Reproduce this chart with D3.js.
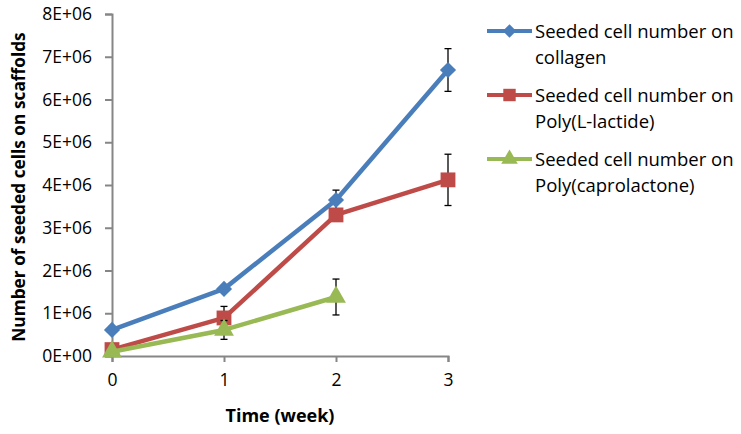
<!DOCTYPE html>
<html>
<head>
<meta charset="utf-8">
<script src="https://cdn.jsdelivr.net/npm/d3@7"></script>
<style>
  body { margin: 0; background: #fff; }
  text { font-family: "Open Sans", "Noto Sans", sans-serif; fill: #000; }
</style>
</head>
<body>
<svg id="chart" width="741" height="434"></svg>
<script>
const weeks = [0, 1, 2, 3];
const yTicks = [0, 1e6, 2e6, 3e6, 4e6, 5e6, 6e6, 7e6, 8e6];
const yTickLabels = ["0E+00", "1E+06", "2E+06", "3E+06", "4E+06", "5E+06", "6E+06", "7E+06", "8E+06"];

const collagen = [0.61e6, 1.57e6, 3.65e6, 6.69e6];
const collagenErr = [0, 0, 0.23e6, 0.5e6];
const plla = [0.15e6, 0.89e6, 3.3e6, 4.12e6];
const pllaErr = [0, 0.27e6, 0, 0.6e6];
const pcl = [0.1e6, 0.61e6, 1.38e6];
const pclErr = [0, 0.22e6, 0.42e6];

const seriesNames = [
  ["Seeded cell number on", "collagen"],
  ["Seeded cell number on", "Poly(L-lactide)"],
  ["Seeded cell number on", "Poly(caprolactone)"]
];
const colors = ["#4a7ebb", "#be4b48", "#98b954"];

// diamond = square turned 45 degrees
const series = [
  { name: seriesNames[0], values: collagen, err: collagenErr, color: colors[0], shape: d3.symbolSquare, size: 130, rot: 45 },
  { name: seriesNames[1], values: plla, err: pllaErr, color: colors[1], shape: d3.symbolSquare, size: 220, rot: 0 },
  { name: seriesNames[2], values: pcl, err: pclErr, color: colors[2], shape: d3.symbolTriangle, size: 170, rot: 0 }
];

const svg = d3.select("#chart");
const x = d3.scaleLinear().domain([0, 3]).range([112, 448]);
const y = d3.scaleLinear().domain([0, 8e6]).range([356, 14]);

// axes
const yAxis = svg.append("g").attr("transform", "translate(112,0)")
  .call(d3.axisLeft(y).tickValues(yTicks).tickSize(7).tickFormat((d, i) => yTickLabels[i]));
const xAxis = svg.append("g").attr("transform", "translate(0,356)")
  .call(d3.axisBottom(x).tickValues(weeks).tickSize(6).tickFormat(d3.format("d")));

[yAxis, xAxis].forEach(g => {
  g.select(".domain").attr("stroke", "#868686").attr("stroke-width", 2);
  g.selectAll(".tick line").attr("stroke", "#868686").attr("stroke-width", 2);
  g.selectAll(".tick text").style("font-size", "17.5px").attr("fill", "#000");
});
yAxis.selectAll(".tick text").attr("x", -20);
xAxis.selectAll(".tick text").attr("y", 18);

// axis titles
svg.append("text")
  .attr("transform", "translate(25,187) rotate(-90)")
  .attr("text-anchor", "middle")
  .style("font-size", "17.3px").style("font-weight", "bold")
  .text("Number of seeded cells on scaffolds");
svg.append("text")
  .attr("x", 280).attr("y", 422)
  .attr("text-anchor", "middle")
  .style("font-size", "18px").style("font-weight", "bold")
  .text("Time (week)");

const line = d3.line().x((d, i) => x(weeks[i])).y(d => y(d));

series.forEach(s => {
  const g = svg.append("g");
  // error bars
  s.values.forEach((v, i) => {
    if (!s.err[i]) return;
    const cx = x(weeks[i]);
    const top = y(v + s.err[i]), bot = y(v - s.err[i]);
    g.append("line").attr("x1", cx).attr("x2", cx).attr("y1", top).attr("y2", bot)
      .attr("stroke", "#000").attr("stroke-width", 1.3);
    [top, bot].forEach(yy => g.append("line")
      .attr("x1", cx - 3.5).attr("x2", cx + 3.5).attr("y1", yy).attr("y2", yy)
      .attr("stroke", "#000").attr("stroke-width", 1.3));
  });
  g.append("path").datum(s.values).attr("d", line)
    .attr("fill", "none").attr("stroke", s.color).attr("stroke-width", 4.5)
    .attr("stroke-linejoin", "round");
  g.selectAll("path.m").data(s.values).join("path").attr("class", "m")
    .attr("transform", (d, i) => `translate(${x(weeks[i])},${y(d)}) rotate(${s.rot})`)
    .attr("d", d3.symbol().type(s.shape).size(s.size))
    .attr("fill", s.color);
});

// legend
const legendY = [31, 95, 159];
series.forEach((s, i) => {
  const g = svg.append("g").attr("transform", `translate(0,${legendY[i]})`);
  g.append("line").attr("x1", 487).attr("x2", 532).attr("y1", 0).attr("y2", 0)
    .attr("stroke", s.color).attr("stroke-width", 4);
  g.append("path").attr("transform", `translate(509.5,0) rotate(${s.rot})`)
    .attr("d", d3.symbol().type(s.shape).size(s.size * 0.7)).attr("fill", s.color);
  s.name.forEach((t, j) => {
    g.append("text").attr("x", 535).attr("y", j * 26 + 7)
      .style("font-size", "18.5px").text(t);
  });
});
</script>
</body>
</html>
